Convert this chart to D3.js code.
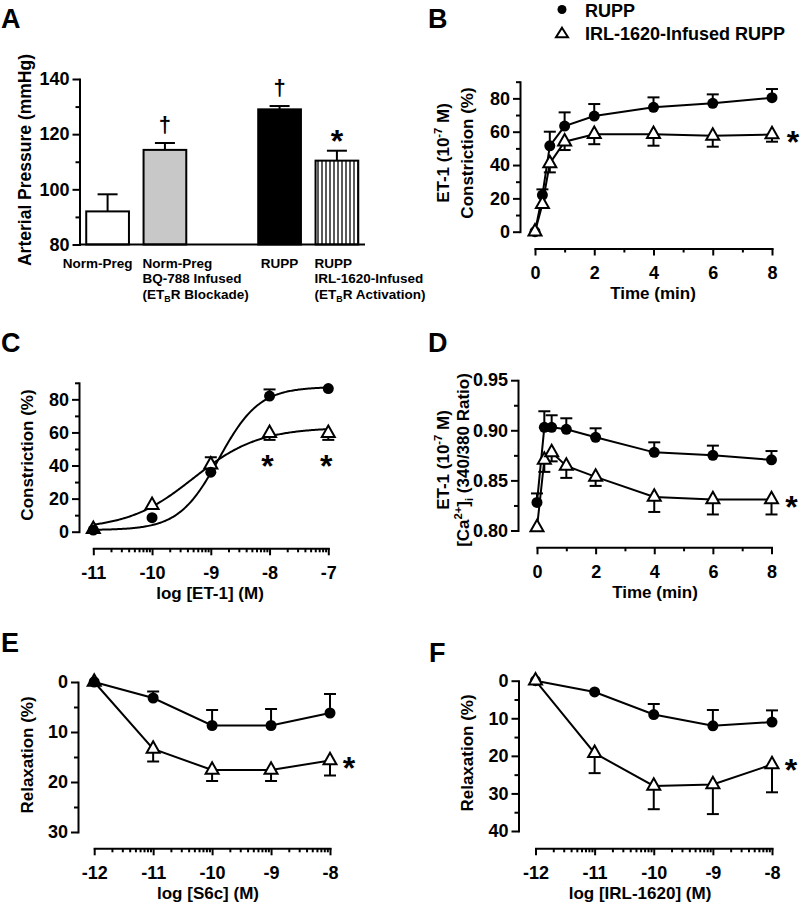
<!DOCTYPE html>
<html><head><meta charset="utf-8">
<script src="https://cdn.jsdelivr.net/npm/d3@7"></script>
<style>
body{margin:0;background:#fff}
svg{display:block}
text{font-family:'Liberation Sans',Arial,Helvetica,sans-serif;font-weight:bold;fill:#000}
</style>
</head><body>
<svg id="chart" width="800" height="905"></svg>
<script>
// ---------------- DATA ----------------
// Panel A
const aCategories = ["NP", "NP-BQ", "gap", "RUPP", "RUPP-IRL"];
const aLabels = [["Norm-Preg"], ["Norm-Preg", "BQ-788 Infused", "(ET_{B}R Blockade)"], [], ["RUPP"], ["RUPP", "IRL-1620-Infused", "(ET_{B}R Activation)"]];
const aValues = [92, 114.3, null, 129, 110.4];
const aErrors = [6.2, 2.5, null, 1.2, 3.6];
const aMarks = ["", "†", "", "†", "*"];
const aTicks = [80, 100, 120, 140];
const aMinor = [90, 110, 130];

// Legend
const seriesNames = ["RUPP", "IRL-1620-Infused RUPP"];

// Panel B : ET-1 constriction over time
const timePoints = [0, 0.25, 0.5, 1, 2, 4, 6, 8];
const bRupp = [0, 22, 51.5, 63.4, 69.4, 74.6, 77, 80.4];
const bRuppErr = [0, 3.4, 8.5, 8.2, 7.2, 6, 5.4, 5.2];
const bIrl = [0, 16.5, 41, 54, 58.5, 58.5, 57.5, 58.3];
const bIrlErr = [0, 0, -5.4, -5, -6, -6.9, -6.5, -4.3];

// Panel C : concentration-response to ET-1
const cLogConc = [-11, -10, -9, -8, -7];
const cRupp = [1, 8.5, 36, 82, 86.5];
const cRuppErr = [0, 0, 0, 4, 0];
const cIrl = [1.5, 16, 40.5, 59.5, 59.5];
const cIrlErr = [0, 0, 4.5, -4, -4];
const cRuppFit = {bottom: 1, top: 87.5, logEC50: -8.86, hill: 1.27};
const cIrlFit = {bottom: 1.5, top: 63, logEC50: -9.3, hill: 0.78};
const cSignif = [-8, -7];

// Panel D : [Ca2+]i over time
const dRupp = [0.828, 0.903, 0.903, 0.901, 0.893, 0.878, 0.875, 0.8705];
const dRuppErr = [0.009, 0.016, 0.012, 0.011, 0.009, 0.010, 0.0097, 0.0088];
const dIrl = [0.803, 0.8705, 0.878, 0.8645, 0.8535, 0.8335, 0.831, 0.831];
const dIrlErr = [0, -0.012, -0.009, -0.012, -0.009, -0.015, -0.015, -0.015];

// Panel E : S6c relaxation
const eLogConc = [-12, -11, -10, -9, -8];
const eRupp = [0, 3.2, 8.7, 8.7, 6.2];
const eRuppErr = [0, -1.3, -3.1, -3.3, -3.8];
const eIrl = [0, 13.4, 17.6, 17.6, 15.7];
const eIrlErr = [0, 2.5, 2.2, 2.2, 3.0];

// Panel F : IRL-1620 relaxation
const fLogConc = [-12, -11, -10, -9, -8];
const fRupp = [0, 3, 9, 12, 11];
const fRuppErr = [0, 0, -2.8, -4.2, -3.1];
const fIrl = [0, 19.3, 28, 27.6, 22.3];
const fIrlErr = [0, 5.3, 6.2, 7.9, 7.4];

// ---------------- DRAWING ----------------
const TICK_FS = 18;
const svg = d3.select("#chart");
svg.append("rect").attr("width", 800).attr("height", 905).attr("fill", "#fff");

const defs = svg.append("defs");
const pat = defs.append("pattern").attr("id", "vstripes").attr("patternUnits", "userSpaceOnUse")
  .attr("width", 4).attr("height", 10);
pat.append("rect").attr("width", 4).attr("height", 10).attr("fill", "#fff");
pat.append("line").attr("x1", 2).attr("x2", 2).attr("y1", 0).attr("y2", 10).attr("stroke", "#000").attr("stroke-width", 1.3);

function richText(sel, str, fs) {
  const parts = str.split(/(\^\{[^}]*\}|_\{[^}]*\})/).filter(s => s.length);
  let cur = 0;
  parts.forEach(p => {
    let target = 0, txt = p, size = fs;
    if (p.startsWith("^{")) { target = -0.42 * fs; txt = p.slice(2, -1); size = fs * 0.66; }
    else if (p.startsWith("_{")) { target = 0.25 * fs; txt = p.slice(2, -1); size = fs * 0.66; }
    sel.append("tspan").attr("dy", target - cur).attr("font-size", size).text(txt);
    cur = target;
  });
}

function styleAxis(g, fs) {
  g.selectAll("path,line").attr("stroke", "#000").attr("stroke-width", 2);
  g.select(".domain").attr("stroke-linecap", "square");
  g.selectAll("text").attr("font-size", fs).attr("fill", "#000")
    .attr("font-family", "'Liberation Sans',Arial,sans-serif").attr("font-weight", "bold");
}

function yAxis(scale, x, major, minor, fmt) {
  const g = svg.append("g").attr("transform", `translate(${x},0)`)
    .call(d3.axisLeft(scale).tickValues(major).tickSize(7).tickSizeOuter(0).tickPadding(3).tickFormat(fmt));
  styleAxis(g, TICK_FS);
  const m = svg.append("g").attr("transform", `translate(${x},0)`)
    .call(d3.axisLeft(scale).tickValues(minor).tickSize(4).tickSizeOuter(0).tickFormat(""));
  m.select(".domain").remove();
  styleAxis(m, TICK_FS);
}

function xAxis(scale, y, major, minor) {
  const g = svg.append("g").attr("transform", `translate(0,${y})`)
    .call(d3.axisBottom(scale).tickValues(major).tickSize(7).tickSizeOuter(0).tickPadding(11).tickFormat(d => String(d)));
  styleAxis(g, TICK_FS);
  const m = svg.append("g").attr("transform", `translate(0,${y})`)
    .call(d3.axisBottom(scale).tickValues(minor).tickSize(4).tickSizeOuter(0).tickFormat(""));
  m.select(".domain").remove();
  styleAxis(m, TICK_FS);
}

function logMinor(lo, hi) {
  const out = [];
  for (let d = lo; d < hi; d++) for (let k = 2; k <= 9; k++) out.push(d + Math.log10(k));
  return out;
}

function panelLetter(letter, x, y) {
  svg.append("text").attr("x", x).attr("y", y).attr("font-size", 27).text(letter);
}

function yTitle(lines, cy, fs) {
  lines.forEach(ln => {
    const t = svg.append("text").attr("transform", `translate(${ln.x},${cy}) rotate(-90)`)
      .attr("text-anchor", "middle").attr("font-size", fs);
    richText(t, ln.text, fs);
  });
}

function xTitle(text, cx, y) {
  svg.append("text").attr("x", cx).attr("y", y).attr("text-anchor", "middle").attr("font-size", 17).text(text);
}

function triPath(w, h) {
  return `M0,${-2 * h / 3}L${w / 2},${h / 3}L${-w / 2},${h / 3}Z`;
}

function asterisk(x, cy, fs) {
  svg.append("text").attr("x", x).attr("y", cy + 0.58 * fs).attr("text-anchor", "middle")
    .attr("font-size", fs).text("*");
}

function drawSeries(xs, vals, errs, xS, yS, type, opts) {
  const g = svg.append("g");
  const pts = xs.map((x, i) => [xS(x), yS(vals[i])]);
  if (opts.line) {
    g.append("path").attr("d", d3.line()(pts)).attr("fill", "none").attr("stroke", "#000").attr("stroke-width", 2);
  }
  return {
    errors() {
      xs.forEach((x, i) => {
        if (!errs[i]) return;
        const cx = xS(x), y1 = yS(vals[i]), y2 = yS(vals[i] + errs[i]);
        svg.append("line").attr("x1", cx).attr("x2", cx).attr("y1", y1).attr("y2", y2)
          .attr("stroke", "#000").attr("stroke-width", 2);
        svg.append("line").attr("x1", cx - 6).attr("x2", cx + 6).attr("y1", y2).attr("y2", y2)
          .attr("stroke", "#000").attr("stroke-width", 2);
      });
    },
    markers() {
      pts.forEach(p => {
        if (type === "circle") {
          svg.append("circle").attr("cx", p[0]).attr("cy", p[1]).attr("r", 5.5).attr("fill", "#000");
        } else {
          svg.append("path").attr("transform", `translate(${p[0]},${p[1]})`).attr("d", triPath(13, 11.5))
            .attr("fill", "#fff").attr("stroke", "#000").attr("stroke-width", 2).attr("stroke-linejoin", "miter");
        }
      });
    }
  };
}

function linePanel(xs, s1, e1, s2, e2, xS, yS, opts) {
  const r = drawSeries(xs, s1, e1, xS, yS, "circle", {line: true});
  const t = drawSeries(xs, s2, e2, xS, yS, "tri", {line: true});
  r.errors(); t.errors();
  if (opts.circlesOnTop) { t.markers(); r.markers(); } else { r.markers(); t.markers(); }
}

// ---------- Panel A ----------
{
  const yA = d3.scaleLinear().domain([80, 140]).range([244.5, 79]);
  const xA = d3.scaleBand().domain(aCategories).range([79.5, 365]).paddingInner(0.22).paddingOuter(0.1);
  panelLetter("A", 1, 28);
  const fills = ["#fff", "#c8c8c8", "none", "#000", "url(#vstripes)"];
  aCategories.forEach((c, i) => {
    if (aValues[i] == null) return;
    const x0 = xA(c), w = xA.bandwidth(), cx = x0 + w / 2;
    const yTop = yA(aValues[i]), yErr = yA(aValues[i] + aErrors[i]);
    svg.append("line").attr("x1", cx).attr("x2", cx).attr("y1", yTop).attr("y2", yErr).attr("stroke", "#000").attr("stroke-width", 2);
    svg.append("line").attr("x1", cx - 10).attr("x2", cx + 10).attr("y1", yErr).attr("y2", yErr).attr("stroke", "#000").attr("stroke-width", 2);
    svg.append("rect").attr("x", x0 + 1).attr("y", yTop).attr("width", w - 2).attr("height", yA(80) - yTop)
      .attr("fill", fills[i]).attr("stroke", "#000").attr("stroke-width", 2);
    if (aMarks[i]) {
      const cy = yErr - 17;
      if (aMarks[i] === "*") asterisk(cx, cy, 32);
      else svg.append("text").attr("x", cx).attr("y", cy + 6).attr("text-anchor", "middle").attr("font-size", 22).text(aMarks[i]);
    }
    // category labels
    aLabels[i].forEach((ln, j) => {
      let anchor = "start", lx = x0;
      if (aLabels[i].length === 1) { anchor = "middle"; lx = i === 0 ? cx - 10 : cx; }
      const t = svg.append("text").attr("x", lx).attr("y", 268 + j * 15.3).attr("text-anchor", anchor).attr("font-size", 13.5);
      richText(t, ln, 13.5);
    });
  });
  // axes
  svg.append("line").attr("x1", 79.5).attr("x2", 365).attr("y1", yA(80)).attr("y2", yA(80)).attr("stroke", "#000").attr("stroke-width", 2);
  yAxis(yA, 79.5, aTicks, aMinor, d => d);
  yTitle([{x: 31, text: "Arterial Pressure (mmHg)"}], 160, 17.5);
}

// ---------- Legend ----------
{
  svg.append("circle").attr("cx", 562).attr("cy", 9.5).attr("r", 4.5).attr("fill", "#000");
  svg.append("text").attr("x", 585).attr("y", 16.5).attr("font-size", 18).text(seriesNames[0]);
  svg.append("path").attr("transform", "translate(562,34)").attr("d", triPath(12, 9.5))
    .attr("fill", "#fff").attr("stroke", "#000").attr("stroke-width", 2);
  svg.append("text").attr("x", 585).attr("y", 39.5).attr("font-size", 18).text(seriesNames[1]);
}

// ---------- Panel B ----------
{
  const xS = d3.scaleLinear().domain([0, 8]).range([535, 772]);
  const yS = d3.scaleLinear().domain([0, 90]).range([231.7, 81.7]);
  panelLetter("B", 428, 28);
  yAxis(yS, 520, [0, 20, 40, 60, 80], [10, 30, 50, 70, 90], d => d);
  xAxis(xS, 248.5, [0, 2, 4, 6, 8], [1, 3, 5, 7]);
  linePanel(timePoints, bRupp, bRuppErr, bIrl, bIrlErr, xS, yS, {circlesOnTop: false});
  asterisk(xS(8) + 21, yS(bIrl[bIrl.length - 1]), 32);
  yTitle([{x: 449, text: "ET-1 (10^{-7} M)"}, {x: 473, text: "Constriction (%)"}], 153, 17);
  xTitle("Time (min)", 653, 299);
}

// ---------- Panel C ----------
{
  const xS = d3.scaleLinear().domain([-11, -7]).range([93.3, 328.3]);
  const yS = d3.scaleLinear().domain([0, 90]).range([531.7, 382.8]);
  panelLetter("C", 1, 352);
  yAxis(yS, 79, [0, 20, 40, 60, 80], [10, 30, 50, 70, 90], d => d);
  xAxis(xS, 548.3, cLogConc, logMinor(-11, -7));
  const hillCurve = f => d3.range(-11, -6.999, 0.02).map(x => [xS(x), yS(f.bottom + (f.top - f.bottom) / (1 + Math.pow(10, (f.logEC50 - x) * f.hill)))]);
  [cRuppFit, cIrlFit].forEach(f => svg.append("path").attr("d", d3.line()(hillCurve(f))).attr("fill", "none").attr("stroke", "#000").attr("stroke-width", 2));
  const r = drawSeries(cLogConc, cRupp, cRuppErr, xS, yS, "circle", {line: false});
  const t = drawSeries(cLogConc, cIrl, cIrlErr, xS, yS, "tri", {line: false});
  r.errors(); t.errors(); t.markers(); r.markers();
  cSignif.forEach(x => asterisk(xS(x) - 2, yS(44.5), 32));
  yTitle([{x: 33, text: "Constriction (%)"}], 455, 17);
  xTitle("log [ET-1] (M)", 210, 599);
}

// ---------- Panel D ----------
{
  const xS = d3.scaleLinear().domain([0, 8]).range([537, 771.5]);
  const yS = d3.scaleLinear().domain([0.80, 0.95]).range([530.5, 380.2]);
  panelLetter("D", 428, 352);
  yAxis(yS, 518, [0.80, 0.85, 0.90, 0.95], [0.825, 0.875, 0.925], d3.format(".2f"));
  xAxis(xS, 547.3, [0, 2, 4, 6, 8], [1, 3, 5, 7]);
  linePanel(timePoints, dRupp, dRuppErr, dIrl, dIrlErr, xS, yS, {circlesOnTop: false});
  asterisk(xS(8) + 20, yS(dIrl[dIrl.length - 1]), 32);
  yTitle([{x: 449, text: "ET-1 (10^{-7} M)"}, {x: 469, text: "[Ca^{2+}]_{i} (340/380 Ratio)"}], 460, 17);
  xTitle("Time (min)", 655, 598);
}

// ---------- Panel E ----------
{
  const xS = d3.scaleLinear().domain([-12, -8]).range([94.2, 330]);
  const yS = d3.scaleLinear().domain([0, 30]).range([682, 832]);
  panelLetter("E", 1, 652);
  yAxis(yS, 78, [0, 10, 20, 30], [5, 15, 25], d => d);
  xAxis(xS, 848.3, eLogConc, logMinor(-12, -8));
  linePanel(eLogConc, eRupp, eRuppErr, eIrl, eIrlErr, xS, yS, {circlesOnTop: true});
  asterisk(xS(-8) + 19, yS(eIrl[eIrl.length - 1]), 32);
  yTitle([{x: 33, text: "Relaxation (%)"}], 755, 17);
  xTitle("log [S6c] (M)", 208, 899);
}

// ---------- Panel F ----------
{
  const xS = d3.scaleLinear().domain([-12, -8]).range([535.5, 772]);
  const yS = d3.scaleLinear().domain([0, 40]).range([680.7, 831]);
  panelLetter("F", 429, 662);
  yAxis(yS, 518.5, [0, 10, 20, 30, 40], [5, 15, 25, 35], d => d);
  xAxis(xS, 848.3, fLogConc, logMinor(-12, -8));
  linePanel(fLogConc, fRupp, fRuppErr, fIrl, fIrlErr, xS, yS, {circlesOnTop: false});
  asterisk(xS(-8) + 19, yS(fIrl[fIrl.length - 1]) - 2, 32);
  yTitle([{x: 473, text: "Relaxation (%)"}], 753, 17);
  xTitle("log [IRL-1620] (M)", 640, 899);
}
</script>
</body></html>
